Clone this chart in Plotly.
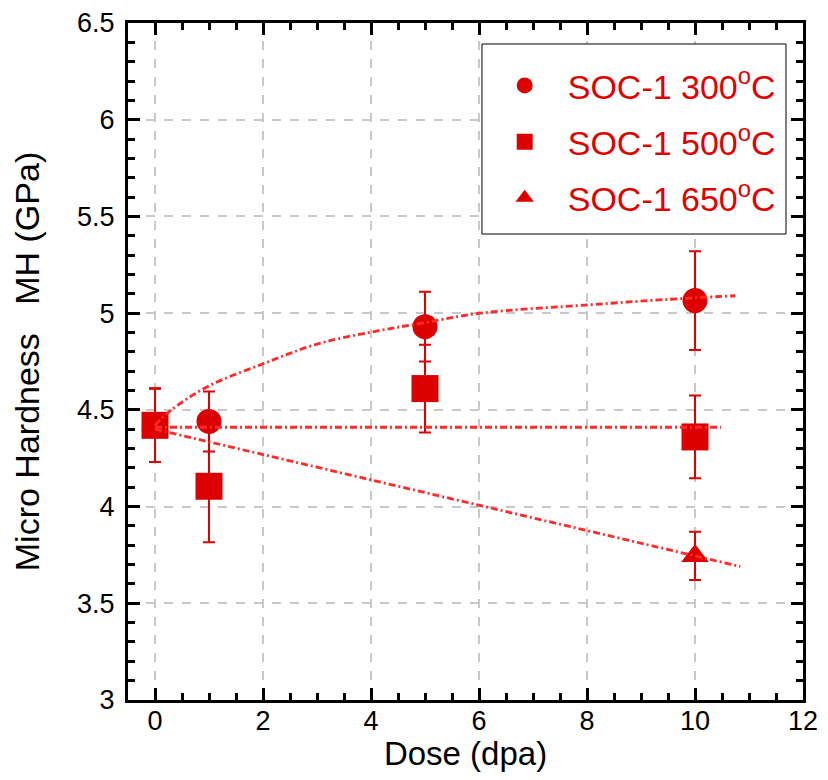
import plotly.graph_objects as go

# ---- data ----
dose = [0, 1, 5, 10]
mh_300 = [4.42, 4.44, 4.93, 5.065]
err_300 = [0.19, 0.155, 0.18, 0.255]
mh_500 = [4.42, 4.105, 4.61, 4.36]
err_500 = [0.19, 0.29, 0.227, 0.214]
dose_650 = [0, 10]
mh_650 = [4.42, 3.745]
err_650 = [0.19, 0.125]

fit300_x = [0, 0.26, 0.97, 2.02, 3.0, 4.06, 4.98, 6.03, 8.04, 9.43, 10.75]
fit300_y = [4.42, 4.49, 4.62, 4.74, 4.84, 4.905, 4.95, 5.0, 5.043, 5.07, 5.09]
fit500_x = [0, 10.48]
fit500_y = [4.41, 4.41]
fit650_x = [0, 10.84]
fit650_y = [4.40, 3.69]

names = ["SOC-1 300<sup>o</sup>C", "SOC-1 500<sup>o</sup>C", "SOC-1 650<sup>o</sup>C"]

MARK = "#dd0000"
LINE = "#ff2a2a"
FONT = "Liberation Sans, Arial, sans-serif"

fig = go.Figure()

def err(e):
    return dict(type="data", array=e, visible=True, color=MARK, thickness=2, width=6)

fig.add_trace(go.Scatter(x=dose, y=mh_300, mode="markers", name=names[0],
                         marker=dict(symbol="circle", size=25, color=MARK),
                         error_y=err(err_300), legendgroup="a", legendrank=1))
fig.add_trace(go.Scatter(x=dose_650, y=mh_650, mode="markers", name=names[2],
                         marker=dict(symbol="triangle-up", size=24, color=MARK),
                         error_y=err(err_650), legendgroup="c", legendrank=3))
fig.add_trace(go.Scatter(x=dose, y=mh_500, mode="markers", name=names[1],
                         marker=dict(symbol="square", size=27, color=MARK),
                         error_y=err(err_500), legendgroup="b", legendrank=2))

dash = "7px,3px,2px,3px"
for fx, fy, shape in [(fit300_x, fit300_y, "spline"), (fit500_x, fit500_y, "linear"),
                      (fit650_x, fit650_y, "linear")]:
    fig.add_trace(go.Scatter(x=fx, y=fy, mode="lines", showlegend=False,
                             line=dict(color=LINE, width=2.8, dash=dash, shape=shape)))

axis_common = dict(
    showline=True, linecolor="black", linewidth=3, mirror="allticks",
    ticks="inside", ticklen=12, tickwidth=3, tickcolor="black",
    showgrid=True, gridcolor="#c8c8c8", griddash="dash", gridwidth=1.5,
    zeroline=False, automargin=False,
    tickfont=dict(family=FONT, size=27, color="black"),
)

fig.update_xaxes(range=[-0.5, 12], dtick=2, tick0=0, ticklabelstandoff=-5,
                 minor=dict(dtick=0.5, ticks="inside", ticklen=7, tickwidth=3, tickcolor="black", showgrid=False),
                 title=dict(text="Dose (dpa)", font=dict(family=FONT, size=33, color="black"), standoff=0),
                 **axis_common)
fig.update_yaxes(range=[3, 6.5], dtick=0.5, tick0=3, ticklabelstandoff=5,
                 minor=dict(dtick=0.1, ticks="inside", ticklen=7, tickwidth=3, tickcolor="black", showgrid=False),
                 title=dict(text="Micro Hardness   MH (GPa)", font=dict(family=FONT, size=34, color="black"), standoff=30),
                 **axis_common)

# legend frame
fig.add_shape(type="rect", xref="paper", yref="paper",
              x0=0.5244, x1=0.9748, y0=0.6883, y1=0.969,
              line=dict(color="black", width=1), fillcolor="white", layer="above")

fig.update_layout(
    width=820, height=764,
    margin=dict(l=120, r=25, t=15, b=72),
    paper_bgcolor="white", plot_bgcolor="white",
    showlegend=True,
    legend=dict(x=0.524, y=0.95, xanchor="left", yanchor="top",
                bgcolor="rgba(0,0,0,0)", borderwidth=0,
                font=dict(family=FONT, size=34, color="#e00000"),
                itemsizing="trace", tracegroupgap=9, itemwidth=76),
)

fig.write_html("out.html")
